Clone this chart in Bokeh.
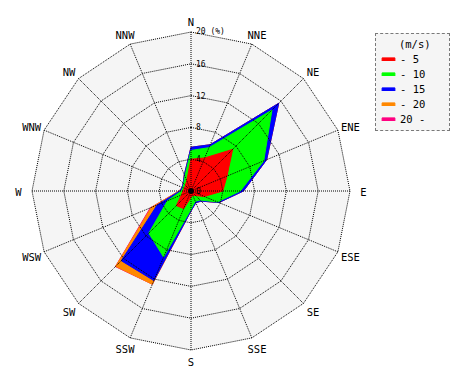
import numpy as np
from bokeh.plotting import figure
from bokeh.models import Range1d, Legend, LegendItem
from bokeh.embed import file_html
from bokeh.resources import INLINE
from bokeh.core.properties import value

# ---- data (percent frequency per direction and speed class) ----
directions = ["N", "NNE", "NE", "ENE", "E", "ESE", "SE", "SSE",
              "S", "SSW", "SW", "WSW", "W", "WNW", "NW", "NNW"]
speed_labels = ["- 5", "- 10", "- 15", "- 20", "20 -"]
freq_0_5   = [4.0, 4.5, 7.4, 4.9, 4.0, 1.8, 0.8, 0.6, 0.8, 2.4, 2.6, 1.3, 1.0, 0.9, 1.0, 1.4]
freq_5_10  = [1.1, 1.4, 7.0, 5.0, 2.2, 1.8, 0.8, 0.8, 1.5, 6.6, 4.9, 1.9, 0.2, 0.2, 0.3, 0.6]
freq_10_15 = [0.4, 0.4, 1.2, 0.4, 0.4, 0.2, 0.2, 0.2, 0.2, 3.2, 4.9, 1.4, 0.2, 0.1, 0.1, 0.2]
freq_15_20 = [0.0, 0.0, 0.0, 0.0, 0.0, 0.0, 0.0, 0.0, 0.0, 0.5, 1.0, 0.8, 0.1, 0.0, 0.0, 0.0]
freq_20_up = [0.0, 0.0, 0.0, 0.0, 0.0, 0.0, 0.0, 0.0, 0.0, 0.0, 0.05, 0.15, 0.0, 0.0, 0.0, 0.0]
ring_values = [0, 4, 8, 12, 16, 20]
ring_labels = ["0", "4", "8", "12", "16", "20 (%)"]
colors = ["#ff0000", "#00ff00", "#0000ff", "#ff8800", "#ff0080"]

# ---- geometry ----
PX_PER_PCT = 7.95
CX, CY = 190.5, 190.5      # centre in figure pixels
W, H = 470, 380
theta = np.deg2rad(np.arange(len(directions)) * 22.5)
sin_t, cos_t = np.sin(theta), np.cos(theta)
rmax = ring_values[-1]

p = figure(width=W, height=H, output_backend="svg", toolbar_location=None,
           x_range=Range1d(-CX / PX_PER_PCT, (W - CX) / PX_PER_PCT),
           y_range=Range1d(-(H - CY) / PX_PER_PCT, CY / PX_PER_PCT),
           x_axis_type=None, y_axis_type=None, min_border=0)
p.outline_line_color = None
p.background_fill_color = "white"
p.border_fill_color = "white"

# background polygon
p.patch(list(rmax * sin_t), list(rmax * cos_t), fill_color="#f5f5f5", line_color=None)

# cumulative wind polygons (largest first)
rows = np.array([freq_0_5, freq_5_10, freq_10_15, freq_15_20, freq_20_up])
cum = np.cumsum(rows, axis=0)
renderers = []
for k in range(len(speed_labels) - 1, -1, -1):
    r = p.patch(list(cum[k] * sin_t), list(cum[k] * cos_t),
                fill_color=colors[k], line_color=colors[k], line_width=1)
    renderers.insert(0, r)

# grid rings and spokes
ring_xs, ring_ys = [], []
for rv in ring_values[1:]:
    ring_xs.append(list(rv * np.append(sin_t, sin_t[0])))
    ring_ys.append(list(rv * np.append(cos_t, cos_t[0])))
p.multi_line(ring_xs, ring_ys, line_color="black", line_width=1, line_dash="1 1")
p.segment(x0=0, y0=0, x1=list(rmax * sin_t), y1=list(rmax * cos_t),
          line_color="black", line_width=1, line_dash="1 1")
p.scatter([0], [0], size=5, color="black")

# ring labels
p.text(x=[0] * len(ring_values), y=ring_values, text=ring_labels,
       x_offset=5, y_offset=-0.5, text_align="left", text_baseline="alphabetic",
       text_font=value("DejaVu Sans Mono"), text_font_size="8px", text_color="black")

# direction labels
LX, LY = 21.7, 21.4
p.text(x=list(LX * sin_t), y=list(LY * cos_t), text=directions, y_offset=1,
       text_align="center", text_baseline="middle",
       text_font=value("DejaVu Sans Mono"), text_font_size="10.5px", text_color="black")

legend = Legend(items=[LegendItem(label=lab, renderers=[rr]) for lab, rr in zip(speed_labels, renderers)],
                location=(375, 249), orientation="vertical")
legend.title = "\u00a0\u00a0\u00a0(m/s)"
legend.title_text_font = "DejaVu Sans Mono"
legend.title_text_font_size = "10.5px"
legend.title_text_font_style = "normal"
legend.title_text_color = "black"
legend.title_standoff = 1
legend.label_text_font = "DejaVu Sans Mono"
legend.label_text_font_size = "10.5px"
legend.label_text_color = "black"
legend.glyph_width = 16
legend.glyph_height = 4
legend.label_height = 15
legend.label_width = 45
legend.label_standoff = 4
legend.spacing = 0
legend.padding = 4
legend.margin = 0
legend.border_line_color = "black"
legend.border_line_dash = "1 1"
legend.border_line_width = 1
legend.background_fill_color = "#f5f5f5"
legend.background_fill_alpha = 1.0
p.add_layout(legend)

open("out.html", "w").write(file_html(p, INLINE))
